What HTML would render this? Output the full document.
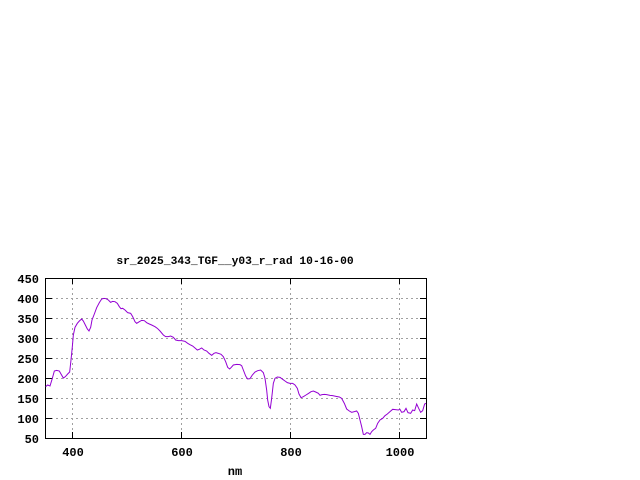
<!DOCTYPE html>
<html><head><style>body{margin:0;background:#fff}svg{display:block}text{font-family:"Liberation Mono",monospace;font-weight:bold;font-size:12px;fill:#000}</style></head><body>
<svg width="640" height="480" xmlns="http://www.w3.org/2000/svg">
<rect width="640" height="480" fill="#fff"/>
<text x="235" y="264" text-anchor="middle" style="font-size:11.3px">sr_2025_343_TGF__y03_r_rad 10-16-00</text>
<g stroke="#a0a0a0" stroke-dasharray="2,3" stroke-width="1">
<line x1="46" x2="426" y1="298.5" y2="298.5"/><line x1="46" x2="426" y1="318.5" y2="318.5"/><line x1="46" x2="426" y1="338.5" y2="338.5"/><line x1="46" x2="426" y1="358.5" y2="358.5"/><line x1="46" x2="426" y1="378.5" y2="378.5"/><line x1="46" x2="426" y1="398.5" y2="398.5"/><line x1="46" x2="426" y1="418.5" y2="418.5"/>
<line x1="72.5" x2="72.5" y1="278" y2="438"/><line x1="181.5" x2="181.5" y1="278" y2="438"/><line x1="290.5" x2="290.5" y1="278" y2="438"/><line x1="399.5" x2="399.5" y1="278" y2="438"/>
</g>
<rect x="45.5" y="278.5" width="381" height="160" fill="none" stroke="#000"/>
<g stroke="#000">
<line x1="46" x2="52" y1="298.5" y2="298.5"/><line x1="46" x2="52" y1="318.5" y2="318.5"/><line x1="46" x2="52" y1="338.5" y2="338.5"/><line x1="46" x2="52" y1="358.5" y2="358.5"/><line x1="46" x2="52" y1="378.5" y2="378.5"/><line x1="46" x2="52" y1="398.5" y2="398.5"/><line x1="46" x2="52" y1="418.5" y2="418.5"/>
<line x1="420" x2="426" y1="298.5" y2="298.5"/><line x1="420" x2="426" y1="318.5" y2="318.5"/><line x1="420" x2="426" y1="338.5" y2="338.5"/><line x1="420" x2="426" y1="358.5" y2="358.5"/><line x1="420" x2="426" y1="378.5" y2="378.5"/><line x1="420" x2="426" y1="398.5" y2="398.5"/><line x1="420" x2="426" y1="418.5" y2="418.5"/>
<line x1="72.5" x2="72.5" y1="438" y2="432"/><line x1="181.5" x2="181.5" y1="438" y2="432"/><line x1="290.5" x2="290.5" y1="438" y2="432"/><line x1="399.5" x2="399.5" y1="438" y2="432"/>
<line x1="72.5" x2="72.5" y1="278" y2="284"/><line x1="181.5" x2="181.5" y1="278" y2="284"/><line x1="290.5" x2="290.5" y1="278" y2="284"/><line x1="399.5" x2="399.5" y1="278" y2="284"/>
</g>
<g text-anchor="end">
<text x="39" y="283">450</text><text x="39" y="303">400</text><text x="39" y="323">350</text><text x="39" y="343">300</text><text x="39" y="363">250</text><text x="39" y="383">200</text><text x="39" y="403">150</text><text x="39" y="423">100</text><text x="39" y="443">50</text>
</g>
<g text-anchor="middle">
<text x="73" y="456">400</text><text x="182" y="456">600</text><text x="291" y="456">800</text><text x="400" y="456">1000</text>
<text x="235" y="475">nm</text>
</g>
<g transform="translate(0,250) scale(0.3333333)">
<polyline fill="none" stroke="#9400d3" stroke-width="3" points="137,410 143,405 150,408 157,385 163,363 170,361 178,363 183,372 190,384 196,380 203,372 209,366 213,330 217,290 220,255 225,232 232,220 238,213 245,207 250,213 256,225 262,237 267,243 272,232 276,210 283,192 290,173 298,158 305,147 312,145 318,146 325,150 332,157 338,154 345,155 352,160 358,170 363,176 368,175 375,180 383,188 392,190 398,200 405,215 410,220 418,215 425,211 433,212 440,218 448,222 455,225 465,230 472,235 480,243 490,255 497,260 505,260 512,258 520,262 527,270 535,272 545,272 555,274 563,280 570,284 578,288 585,294 592,300 598,298 605,294 612,300 620,303 627,310 635,316 642,310 648,308 655,310 663,313 670,320 677,335 683,352 689,357 694,352 700,345 710,343 720,344 725,347 730,360 737,378 743,387 750,386 757,375 765,366 773,362 782,360 790,368 795,385 800,420 803,450 807,470 811,475 815,445 820,400 825,385 832,381 840,382 848,388 855,393 862,398 870,400 878,400 885,405 892,415 897,432 903,443 910,440 918,435 926,430 933,425 940,423 947,426 955,430 960,436 966,434 973,433 980,434 990,436 998,437 1008,439 1018,441 1025,445 1033,460 1040,477 1048,483 1055,487 1063,485 1070,483 1075,490 1080,510 1085,530 1090,553 1095,553 1100,548 1105,549 1110,553 1115,545 1120,540 1127,535 1133,520 1140,510 1148,505 1155,497 1162,492 1170,485 1178,478 1186,479 1195,480 1200,478 1205,487 1212,485 1218,475 1224,488 1232,490 1238,480 1244,482 1250,462 1256,475 1262,487 1268,482 1274,462 1278,460"/>
</g>
</svg>
</body></html>
